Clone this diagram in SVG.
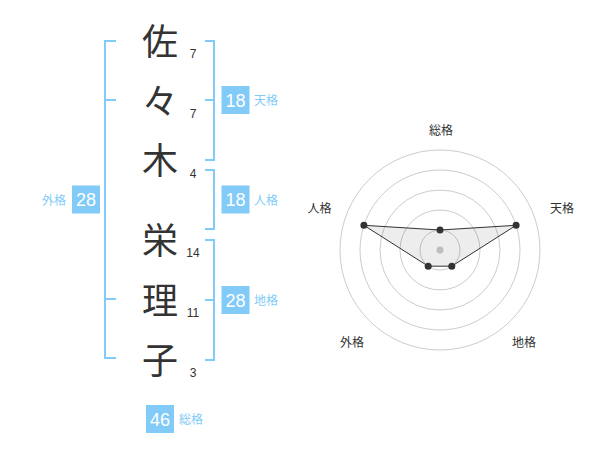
<svg xmlns="http://www.w3.org/2000/svg" width="600" height="470" viewBox="0 0 600 470">
<style>
.ch{font-family:"Noto Sans CJK JP","Noto Sans CJK SC",sans-serif;font-size:36px;fill:#333;text-anchor:middle}
.num{font-family:"Liberation Sans",Arial,sans-serif;font-size:12px;fill:#333;text-anchor:middle}
.br{fill:none;stroke:#82cbf8;stroke-width:2}
.box{fill:#82cbf8}
.bn{font-family:"Liberation Sans",Arial,sans-serif;font-size:18px;fill:#fff;text-anchor:middle}
.lb{font-family:"Noto Sans CJK JP","Noto Sans CJK SC",sans-serif;font-size:12px;fill:#82cbf8}
.rl{font-family:"Noto Sans CJK JP","Noto Sans CJK SC",sans-serif;font-size:12px;fill:#333;text-anchor:middle}
.ring{fill:none;stroke:#cccccc;stroke-width:1}
.pt{fill:#333}
</style>
<rect width="600" height="470" fill="#fff"/>
<g id="chars">
<text class="ch" x="160" y="54.5">佐</text>
<text class="ch" x="160" y="114.5">々</text>
<text class="ch" x="160" y="174">木</text>
<text class="ch" x="160" y="254">栄</text>
<text class="ch" x="160" y="314">理</text>
<text class="ch" x="160" y="374">子</text>
</g>
<g id="strokes">
<text class="num" x="193" y="58">7</text>
<text class="num" x="193" y="118">7</text>
<text class="num" x="193" y="177.5">4</text>
<text class="num" x="193" y="257">14</text>
<text class="num" x="193" y="317">11</text>
<text class="num" x="193" y="377">3</text>
</g>
<g id="connectors">
<path class="br" d="M116,41 H105 V358 H116 M105,100 H116 M105,299 H116"/>
<path class="br" d="M205,41 H214 V160 H205 M205,100 H214"/>
<path class="br" d="M205,170 H214 V229 H205"/>
<path class="br" d="M205,240 H214 V360 H205 M205,300 H214"/>
</g>
<g id="tenkaku">
<rect class="box" x="221.5" y="86" width="28" height="28"/>
<text class="bn" x="235.5" y="106.5">18</text>
<text class="lb" x="254" y="105">天格</text>
</g>
<g id="jinkaku">
<rect class="box" x="221.5" y="185.5" width="28" height="28"/>
<text class="bn" x="235.5" y="206">18</text>
<text class="lb" x="254" y="204.5">人格</text>
</g>
<g id="chikaku">
<rect class="box" x="221.5" y="286" width="28" height="28"/>
<text class="bn" x="235.5" y="306.5">28</text>
<text class="lb" x="254" y="305">地格</text>
</g>
<g id="gaikaku">
<rect class="box" x="72" y="185.5" width="28" height="28"/>
<text class="bn" x="86" y="206">28</text>
<text class="lb" x="66" y="204.5" text-anchor="end">外格</text>
</g>
<g id="soukaku">
<rect class="box" x="146" y="405" width="28" height="28"/>
<text class="bn" x="160" y="425.5">46</text>
<text class="lb" x="179" y="424">総格</text>
</g>
<g id="radar">
<circle class="ring" cx="440" cy="250" r="20"/>
<circle class="ring" cx="440" cy="250" r="40"/>
<circle class="ring" cx="440" cy="250" r="60"/>
<circle class="ring" cx="440" cy="250" r="80"/>
<circle class="ring" cx="440" cy="250" r="100"/>
<circle cx="440" cy="250" r="3.5" fill="#cccccc"/>
<polygon points="440,230 516.1,225.3 451.8,266.2 428.2,266.2 363.9,225.3" fill="#000" fill-opacity="0.07" stroke="#333" stroke-width="1"/>
<circle class="pt" cx="440" cy="230" r="3.5"/>
<circle class="pt" cx="516.1" cy="225.3" r="3.5"/>
<circle class="pt" cx="451.8" cy="266.2" r="3.5"/>
<circle class="pt" cx="428.2" cy="266.2" r="3.5"/>
<circle class="pt" cx="363.9" cy="225.3" r="3.5"/>
<text class="rl" x="441" y="135">総格</text>
<text class="rl" x="562" y="212.5">天格</text>
<text class="rl" x="319.5" y="212.5">人格</text>
<text class="rl" x="352" y="346.5">外格</text>
<text class="rl" x="524" y="346.5">地格</text>
</g>
</svg>
